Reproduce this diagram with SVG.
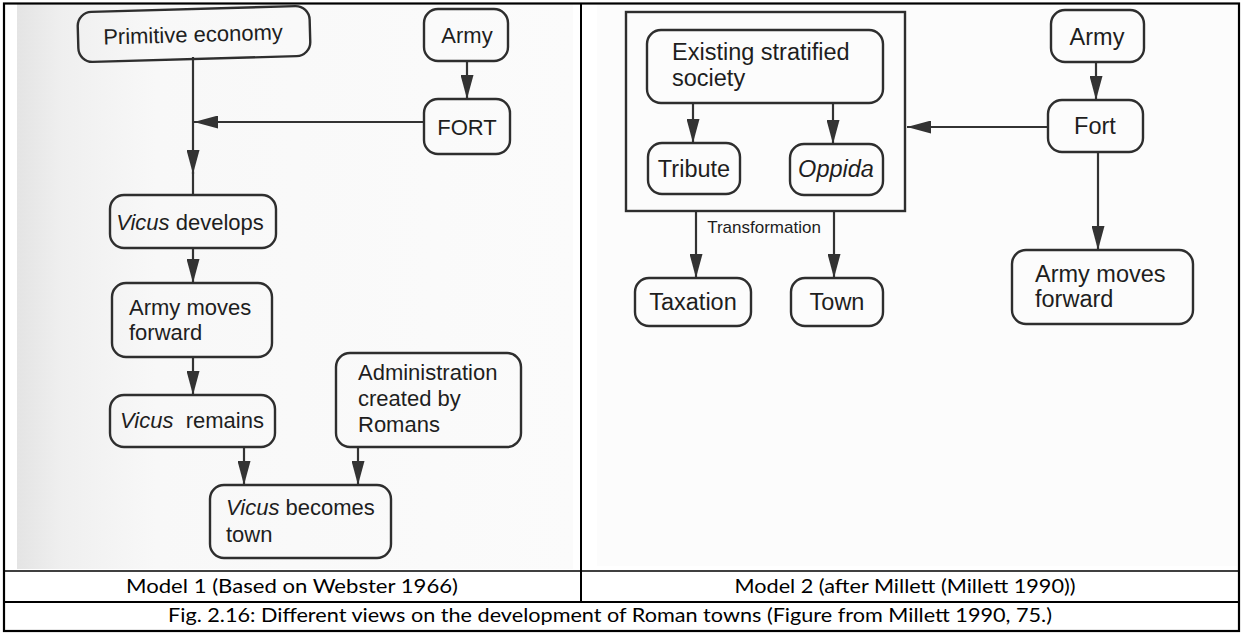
<svg xmlns="http://www.w3.org/2000/svg" width="1242" height="633" viewBox="0 0 1242 633">
<defs>
<linearGradient id="scanL" x1="0" y1="0" x2="1" y2="0">
<stop offset="0" stop-color="#e4e4e4"/>
<stop offset="0.08" stop-color="#efefef"/>
<stop offset="0.25" stop-color="#f8f8f8"/>
<stop offset="1" stop-color="#fbfbfb"/>
</linearGradient>
<marker id="ah" markerUnits="userSpaceOnUse" markerWidth="24" markerHeight="13" refX="24" refY="6.5" orient="auto">
<path d="M0,0 L24,6.5 L0,13 Z" fill="#333"/>
</marker>
</defs>
<style>
.box{fill:none;stroke:#2e2e2e;stroke-width:2.4}
.t{font-family:"Liberation Sans",Arial,sans-serif;font-size:22px;fill:#1e1e1e}
.tr{font-family:"Liberation Sans",Arial,sans-serif;font-size:23.5px;fill:#1e1e1e}
.c{fill:none;stroke:#333;stroke-width:2.2}
.cap{font-family:Lato,"Liberation Sans",sans-serif;font-size:20px;fill:#000}
.tbl{stroke:#000;fill:none}
</style>
<rect width="1242" height="633" fill="#fff"/>
<rect x="17" y="4" width="556" height="565" fill="url(#scanL)"/>
<rect x="597" y="4" width="640" height="562" fill="#fcfcfc"/>

<g id="connectors">
<line class="c" x1="467" y1="61" x2="467" y2="99" marker-end="url(#ah)"/>
<line class="c" x1="424" y1="122" x2="194" y2="122" marker-end="url(#ah)"/>
<line class="c" x1="193" y1="57" x2="193" y2="174" marker-end="url(#ah)"/>
<line class="c" x1="193" y1="172" x2="193" y2="195"/>
<line class="c" x1="193" y1="248" x2="193" y2="283" marker-end="url(#ah)"/>
<line class="c" x1="193" y1="357" x2="193" y2="395" marker-end="url(#ah)"/>
<line class="c" x1="244" y1="447" x2="244" y2="485" marker-end="url(#ah)"/>
<line class="c" x1="358" y1="447" x2="358" y2="485" marker-end="url(#ah)"/>
<line class="c" x1="693" y1="103" x2="693" y2="143" marker-end="url(#ah)"/>
<line class="c" x1="833" y1="103" x2="833" y2="144" marker-end="url(#ah)"/>
<line class="c" x1="1096" y1="62" x2="1096" y2="100" marker-end="url(#ah)"/>
<line class="c" x1="1048" y1="127" x2="907" y2="127" marker-end="url(#ah)"/>
<line class="c" x1="1098" y1="152" x2="1098" y2="250" marker-end="url(#ah)"/>
<line class="c" x1="696" y1="211" x2="696" y2="278" marker-end="url(#ah)"/>
<line class="c" x1="834" y1="211" x2="834" y2="278" marker-end="url(#ah)"/>
</g>

<g id="primitive-economy" transform="rotate(-1.6 194 34)">
<rect class="box" x="78" y="9" width="232" height="50" rx="14"/>
<text class="t" x="193" y="42" text-anchor="middle">Primitive economy</text>
</g>
<g id="army-1">
<rect class="box" x="424" y="9" width="84" height="52" rx="14"/>
<text class="t" x="467" y="43" text-anchor="middle">Army</text>
</g>
<g id="fort-1">
<rect class="box" x="424" y="99" width="86" height="55" rx="14"/>
<text class="t" x="467" y="135" text-anchor="middle">FORT</text>
</g>
<g id="vicus-develops">
<rect class="box" x="110" y="195" width="166" height="53" rx="14"/>
<text class="t" x="190" y="230" text-anchor="middle"><tspan font-style="italic">Vicus</tspan> develops</text>
</g>
<g id="army-moves-forward-1">
<rect class="box" x="112" y="283" width="160" height="74" rx="14"/>
<text class="t" x="129" y="315">Army moves</text>
<text class="t" x="129" y="340">forward</text>
</g>
<g id="vicus-remains">
<rect class="box" x="110" y="395" width="165" height="52" rx="14"/>
<text class="t" x="192" y="428" text-anchor="middle" xml:space="preserve"><tspan font-style="italic">Vicus</tspan>  remains</text>
</g>
<g id="administration">
<rect class="box" x="336" y="353" width="185" height="94" rx="14"/>
<text class="t" x="358" y="380">Administration</text>
<text class="t" x="358" y="406">created by</text>
<text class="t" x="358" y="432">Romans</text>
</g>
<g id="vicus-becomes-town">
<rect class="box" x="210" y="485" width="181" height="73" rx="14"/>
<text class="t" x="226" y="515"><tspan font-style="italic">Vicus</tspan> becomes</text>
<text class="t" x="226" y="542">town</text>
</g>

<g id="society-frame">
<rect class="box" x="626" y="12" width="279" height="199"/>
<text x="764" y="233" text-anchor="middle" font-family="Liberation Sans, Arial, sans-serif" font-size="17" fill="#1e1e1e">Transformation</text>
</g>
<g id="existing-stratified-society">
<rect class="box" x="647" y="30" width="236" height="73" rx="14"/>
<text class="tr" x="672" y="60">Existing stratified</text>
<text class="tr" x="672" y="86">society</text>
</g>
<g id="tribute">
<rect class="box" x="648" y="143" width="92" height="51" rx="14"/>
<text class="tr" x="694" y="177" text-anchor="middle">Tribute</text>
</g>
<g id="oppida">
<rect class="box" x="790" y="144" width="93" height="51" rx="14"/>
<text class="tr" x="836" y="177" text-anchor="middle" font-style="italic">Oppida</text>
</g>
<g id="army-2">
<rect class="box" x="1051" y="10" width="93" height="52" rx="14"/>
<text class="tr" x="1097" y="45" text-anchor="middle">Army</text>
</g>
<g id="fort-2">
<rect class="box" x="1048" y="100" width="95" height="52" rx="14"/>
<text class="tr" x="1095" y="134" text-anchor="middle">Fort</text>
</g>
<g id="army-moves-forward-2">
<rect class="box" x="1012" y="250" width="181" height="74" rx="14"/>
<text class="tr" x="1035" y="282">Army moves</text>
<text class="tr" x="1035" y="307">forward</text>
</g>
<g id="taxation">
<rect class="box" x="635" y="278" width="116" height="48" rx="14"/>
<text class="tr" x="693" y="310" text-anchor="middle">Taxation</text>
</g>
<g id="town">
<rect class="box" x="791" y="278" width="92" height="48" rx="14"/>
<text class="tr" x="837" y="310" text-anchor="middle">Town</text>
</g>

<g id="table">
<rect class="tbl" x="4" y="3.5" width="1235" height="627.5" stroke-width="2.2"/>
<line class="tbl" x1="581" y1="3.5" x2="581" y2="602" stroke-width="2"/>
<line class="tbl" x1="4" y1="571" x2="1239" y2="571" stroke-width="1.6"/>
<line class="tbl" x1="4" y1="602" x2="1239" y2="602" stroke-width="2.2"/>
<text class="cap" x="292" y="593" text-anchor="middle" textLength="332" lengthAdjust="spacingAndGlyphs">Model 1 (Based on Webster 1966)</text>
<text class="cap" x="905" y="593" text-anchor="middle" textLength="341" lengthAdjust="spacingAndGlyphs">Model 2 (after Millett (Millett 1990))</text>
<text class="cap" x="610" y="622" text-anchor="middle" textLength="884" lengthAdjust="spacingAndGlyphs">Fig. 2.16: Different views on the development of Roman towns (Figure from Millett 1990, 75.)</text>
</g>
</svg>
